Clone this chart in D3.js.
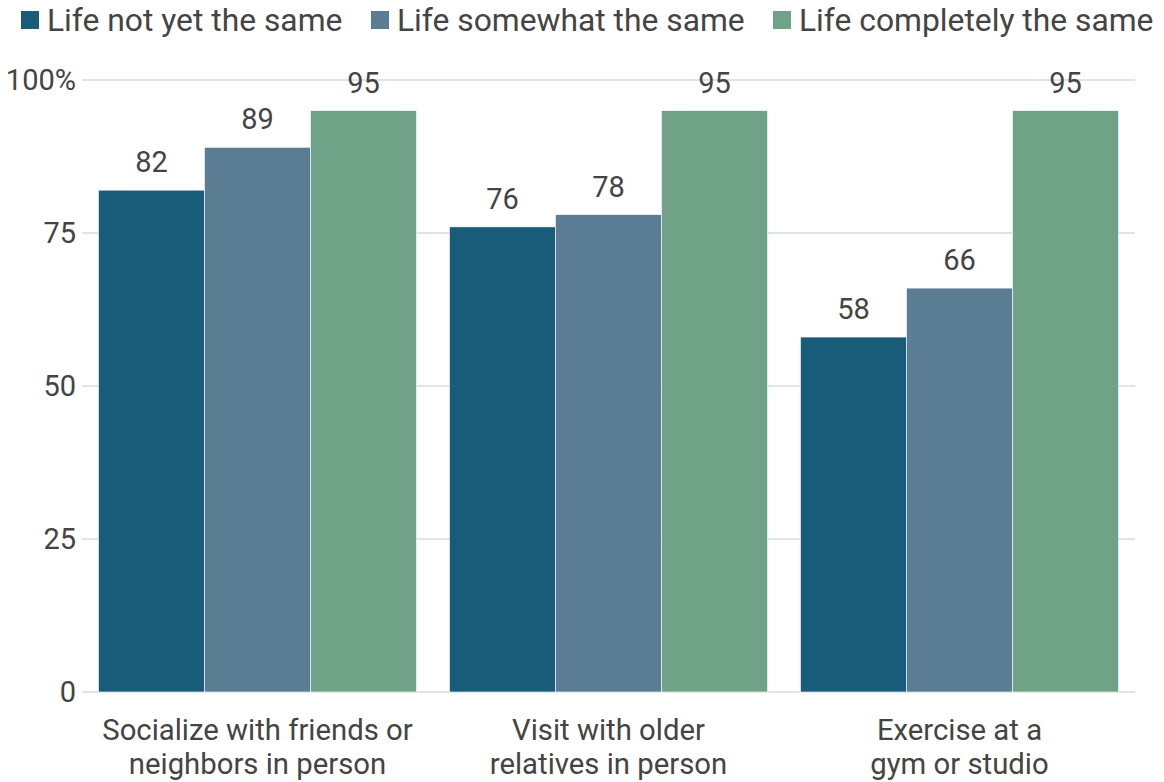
<!DOCTYPE html>
<html>
<head>
<meta charset="utf-8">
<script src="https://cdn.jsdelivr.net/npm/d3@7"></script>
<style>
  body { margin: 0; background: #fff; }
  text { font-family: Roboto, sans-serif; fill: #444; }
</style>
</head>
<body>
<svg id="chart"></svg>
<script>
const width = 1164;
const height = 782;

const categories = [
  ['Socialize with friends or', 'neighbors in person'],
  ['Visit with older', 'relatives in person'],
  ['Exercise at a', 'gym or studio']
];
const seriesNames = ['Life not yet the same', 'Life somewhat the same', 'Life completely the same'];
const notYet = [82, 76, 58];
const somewhat = [89, 78, 66];
const completely = [95, 95, 95];
const yTicks = [0, 25, 50, 75, 100];

const colors = ['#185c7a', '#5a7d94', '#6fa287'];
const series = [notYet, somewhat, completely];

const svg = d3.select('#chart')
  .attr('width', width)
  .attr('height', height);

const x = d3.scaleBand()
  .domain(d3.range(categories.length))
  .range([82, 1135])
  .paddingInner(0.094)
  .paddingOuter(0.047);

const xInner = d3.scaleBand()
  .domain(d3.range(series.length))
  .range([0, x.bandwidth()]);

const y = d3.scaleLinear().domain([0, 100]).range([692, 80]);

// gridlines
svg.append('g')
  .selectAll('line')
  .data(yTicks)
  .join('line')
  .attr('x1', 82)
  .attr('x2', 1135)
  .attr('y1', d => y(d))
  .attr('y2', d => y(d))
  .attr('stroke', '#e3e3e3')
  .attr('stroke-width', 2);

// y tick labels
svg.append('g')
  .selectAll('text')
  .data(yTicks)
  .join('text')
  .attr('x', 76)
  .attr('y', d => y(d))
  .attr('dy', '0.35em')
  .attr('text-anchor', 'end')
  .style('font-size', '29px')
  .text(d => d === 100 ? '100%' : d);

// bars
const groups = svg.append('g')
  .selectAll('g')
  .data(categories)
  .join('g')
  .attr('transform', (d, i) => `translate(${x(i)},0)`);

groups.each(function(c, i) {
  const g = d3.select(this);
  const vals = series.map((s, k) => ({ k, v: s[i] }));
  g.selectAll('rect')
    .data(vals)
    .join('rect')
    .attr('x', d => xInner(d.k))
    .attr('width', xInner.bandwidth())
    .attr('y', d => y(d.v))
    .attr('height', d => y(0) - y(d.v))
    .attr('fill', d => colors[d.k])
    .attr('stroke', '#fff')
    .attr('stroke-width', 0.6);
  g.selectAll('text.val')
    .data(vals)
    .join('text')
    .attr('class', 'val')
    .attr('x', d => xInner(d.k) + xInner.bandwidth() / 2)
    .attr('y', d => y(d.v) - 18)
    .attr('text-anchor', 'middle')
    .style('font-size', '29px')
    .text(d => d.v);
  g.append('text')
    .attr('x', x.bandwidth() / 2)
    .attr('y', 740)
    .attr('text-anchor', 'middle')
    .style('font-size', '29.3px')
    .selectAll('tspan')
    .data(c)
    .join('tspan')
    .attr('x', x.bandwidth() / 2)
    .attr('dy', (d, j) => j === 0 ? 0 : 34)
    .text(d => d);
});

// legend
const legendX = [21, 371, 773];
const legend = svg.append('g')
  .selectAll('g')
  .data(seriesNames)
  .join('g')
  .attr('transform', (d, i) => `translate(${legendX[i]},11)`);
legend.append('rect')
  .attr('width', 18)
  .attr('height', 18)
  .attr('fill', (d, i) => colors[i]);
legend.append('text')
  .attr('x', 26)
  .attr('y', 20)
  .style('font-size', '31.8px')
  .text(d => d);
</script>
</body>
</html>
